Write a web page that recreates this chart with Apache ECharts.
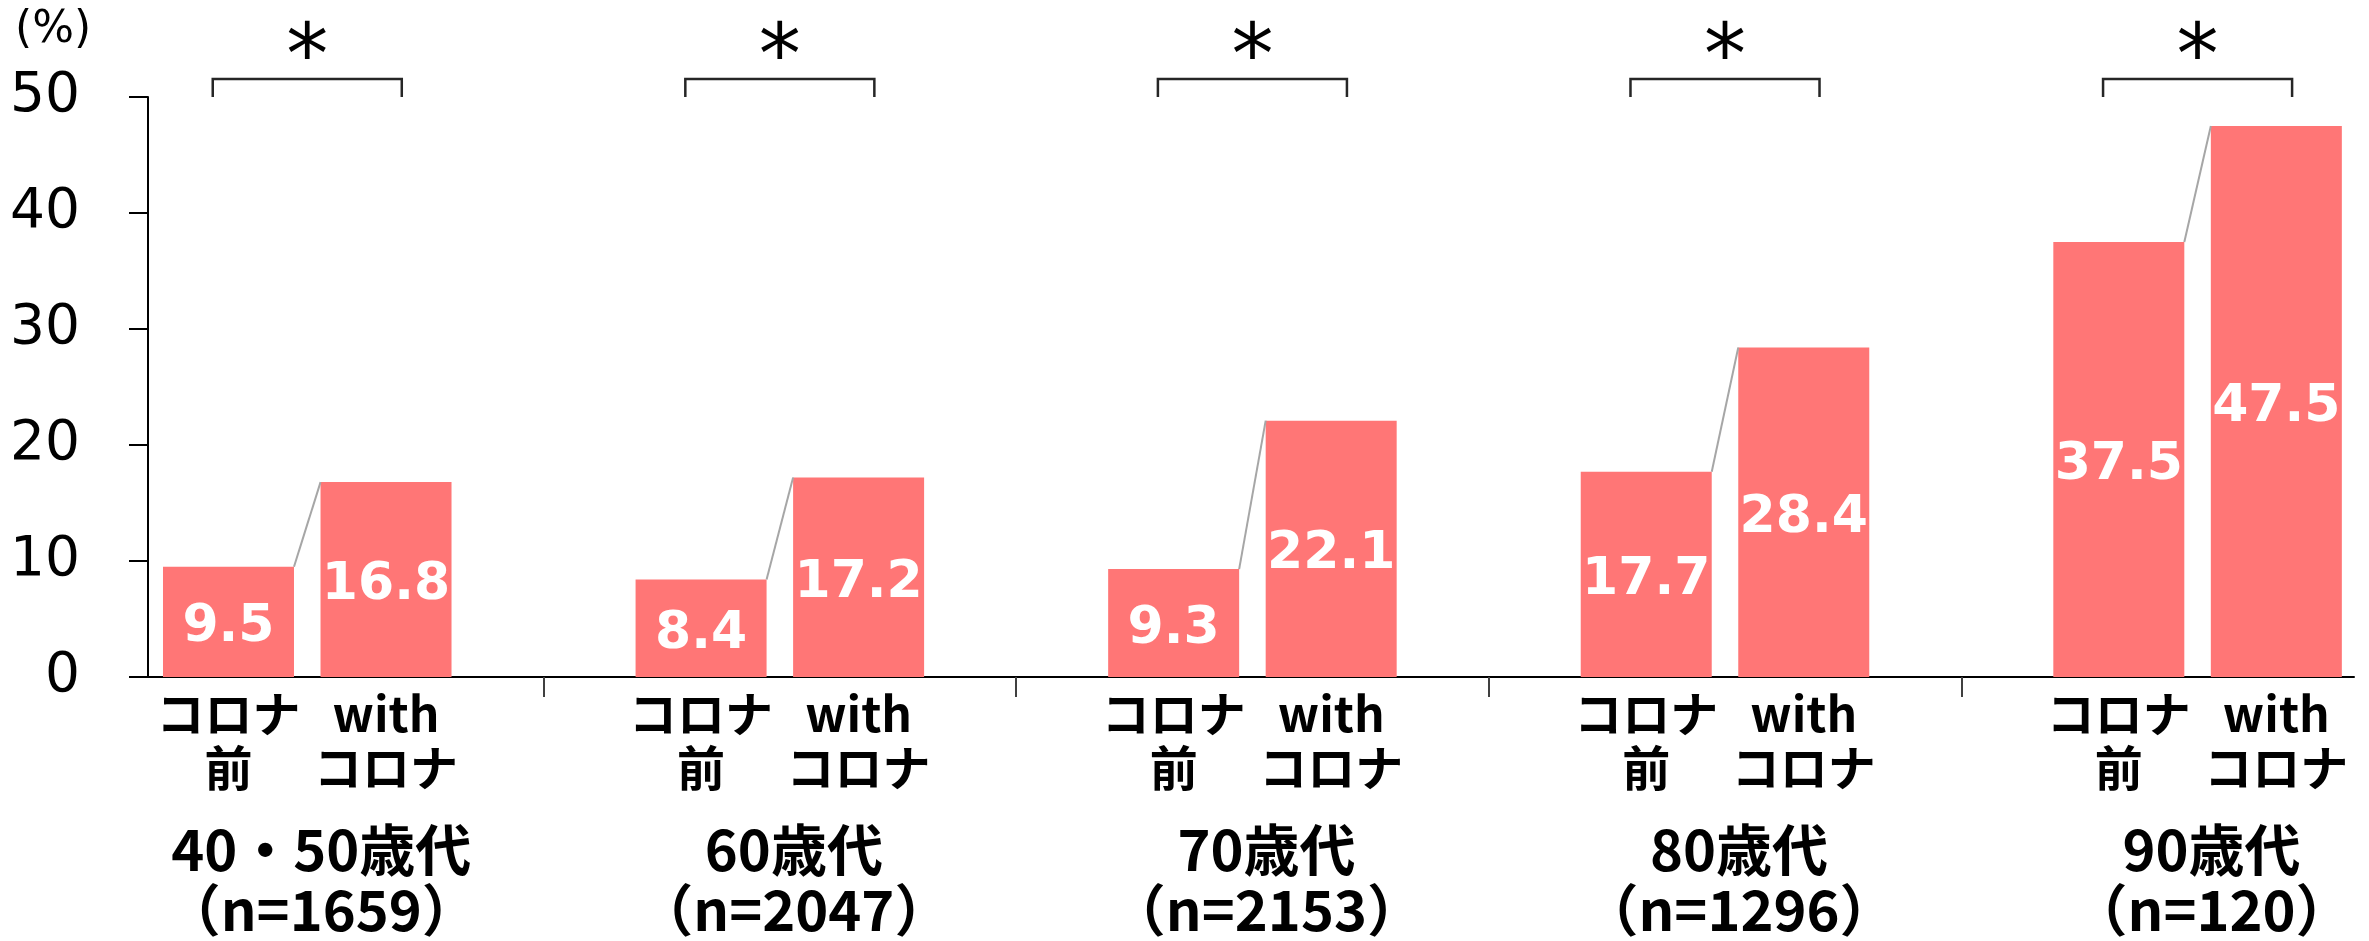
<!DOCTYPE html>
<html>
<head>
<meta charset="utf-8">
<script src="https://cdn.jsdelivr.net/npm/echarts@6/dist/echarts.min.js"></script>
<style>
  html, body { margin: 0; padding: 0; background: #ffffff; }
  #chart { width: 2369px; height: 941px; }
</style>
</head>
<body>
<div id="chart"></div>
<script>
// Age groups and their sample sizes
const ageGroups = ['40・50歳代', '60歳代', '70歳代', '80歳代', '90歳代'];
const sampleSizes = [1659, 2047, 2153, 1296, 120];
// Period labels under each pair of bars
const periodLabels = ['コロナ\n前', 'with\nコロナ'];
// Percentages (%)
const beforeCorona = [9.5, 8.4, 9.3, 17.7, 37.5];
const withCorona = [16.8, 17.2, 22.1, 28.4, 47.5];
// Significance marks per age group
const significance = ['*', '*', '*', '*', '*'];
// Y axis range
const yMin = 0, yMax = 50, yStep = 10;

// Layout: groups sit at integer x positions, bars either side of them
const X_MIN = -0.337, X_MAX = 4.331;
const GRID_LEFT = 148, GRID_RIGHT = 15, GRID_TOP = 97, GRID_BOTTOM = 264;
const CHART_W = 2369;
const PX_PER_UNIT = (CHART_W - GRID_LEFT - GRID_RIGHT) / (X_MAX - X_MIN);
const BAR_OFFSET = 1 / 6;
const BAR_WIDTH = 131;
const HALF_BAR = (BAR_WIDTH / 2) / PX_PER_UNIT;
const BRACKET_HALF = 0.2;

const BAR_COLOR = '#FF7676';
const LATIN = "'DejaVu Sans', Verdana, sans-serif";
const JP = "'Noto Sans CJK JP', 'Noto Sans', sans-serif";

const barData = [];
const barLabelPositions = [];
ageGroups.forEach((g, i) => {
  barData.push([i - BAR_OFFSET, beforeCorona[i]]);
  barData.push([i + BAR_OFFSET, withCorona[i]]);
  barLabelPositions.push(i - BAR_OFFSET, i + BAR_OFFSET);
});

// Thin connectors between the tops of each pair
const connectorSeries = ageGroups.map((g, i) => ({
  type: 'line',
  silent: true,
  symbol: 'none',
  z: 3,
  lineStyle: { color: '#a6a6a6', width: 2 },
  data: [[i - BAR_OFFSET + HALF_BAR, beforeCorona[i]], [i + BAR_OFFSET - HALF_BAR, withCorona[i]]]
}));

const chart = echarts.init(document.getElementById('chart'), null, { renderer: 'canvas' });

chart.setOption({
  animation: false,
  backgroundColor: '#ffffff',
  title: {
    text: '(%)',
    left: 10,
    top: 4,
    textStyle: { fontFamily: LATIN, fontSize: 44, fontWeight: 'normal', color: '#000' }
  },
  grid: { left: GRID_LEFT, right: GRID_RIGHT, top: GRID_TOP, bottom: GRID_BOTTOM },
  xAxis: [
    {
      type: 'value',
      min: X_MIN,
      max: X_MAX,
      splitLine: { show: false },
      axisLine: { show: true, lineStyle: { color: '#000', width: 2 } },
      axisTick: {
        show: true,
        customValues: [0.5, 1.5, 2.5, 3.5],
        length: 20,
        lineStyle: { color: '#404040', width: 2 }
      },
      axisLabel: {
        customValues: barLabelPositions,
        formatter: (v) => periodLabels[v < Math.round(v) ? 0 : 1],
        margin: 10,
        fontFamily: JP,
        fontWeight: 'bold',
        fontSize: 48,
        lineHeight: 54,
        color: '#000',
        align: 'center'
      }
    },
    {
      type: 'value',
      min: X_MIN,
      max: X_MAX,
      position: 'bottom',
      splitLine: { show: false },
      axisLine: { show: false },
      axisTick: { show: false },
      axisLabel: {
        customValues: ageGroups.map((g, i) => i),
        formatter: (v) => {
          const i = Math.round(v);
          return ageGroups[i] + '\n（n=' + sampleSizes[i] + '）';
        },
        margin: 143,
        padding: [0, 0, 0, 28],
        fontFamily: JP,
        fontWeight: 'bold',
        fontSize: 56,
        lineHeight: 60,
        color: '#000',
        align: 'center'
      }
    }
  ],
  yAxis: {
    type: 'value',
    min: yMin,
    max: yMax,
    interval: yStep,
    splitLine: { show: false },
    axisLine: { show: true, onZero: false, lineStyle: { color: '#000', width: 2 } },
    axisTick: { show: true, inside: false, length: 19, lineStyle: { color: '#000', width: 2 } },
    axisLabel: { fontFamily: LATIN, fontSize: 55, color: '#000', margin: 68 }
  },
  series: [
    {
      type: 'bar',
      xAxisIndex: 0,
      barWidth: BAR_WIDTH,
      itemStyle: { color: BAR_COLOR },
      label: {
        show: true,
        position: 'inside',
        offset: [0, 6],
        formatter: (p) => p.value[1].toFixed(1),
        fontFamily: LATIN,
        fontWeight: 'bold',
        fontSize: 52,
        color: '#ffffff'
      },
      data: barData,
      z: 2
    },
    ...connectorSeries,
    {
      type: 'custom',
      clip: false,
      silent: true,
      data: significance.map((s, i) => [i, yMax, s]),
      renderItem: (params, api) => {
        const i = api.value(0);
        const l = api.coord([i - BRACKET_HALF, api.value(1)]);
        const r = api.coord([i + BRACKET_HALF, api.value(1)]);
        const rise = 18;
        return {
          type: 'group',
          children: [
            {
              type: 'polyline',
              shape: { points: [[l[0], l[1]], [l[0], l[1] - rise], [r[0], r[1] - rise], [r[0], r[1]]] },
              style: { stroke: '#262626', lineWidth: 2.5, fill: null }
            },
            {
              type: 'text',
              style: {
                text: significance[params.dataIndex],
                x: (l[0] + r[0]) / 2,
                y: l[1] - rise - 60,
                align: 'center',
                verticalAlign: 'top',
                font: '84px ' + LATIN,
                fill: '#000'
              }
            }
          ]
        };
      }
    }
  ]
});
</script>
</body>
</html>
